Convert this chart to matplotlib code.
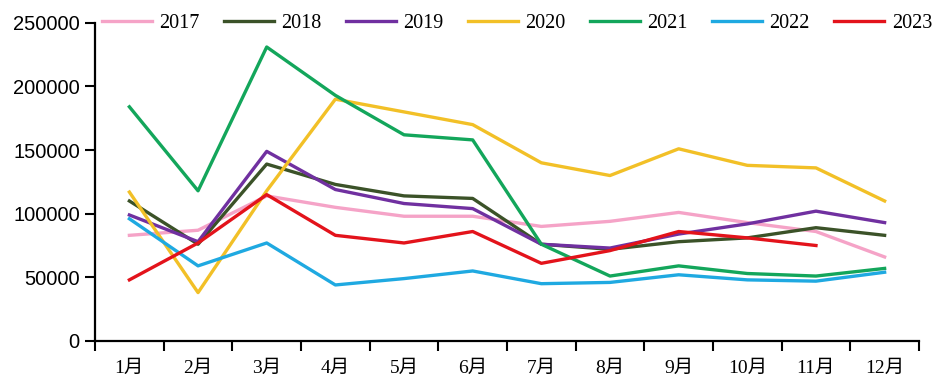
import matplotlib.pyplot as plt
import numpy as np

MONTHS = ['1月', '2月', '3月', '4月', '5月', '6月', '7月', '8月', '9月', '10月', '11月', '12月']
YEARS = ['2017', '2018', '2019', '2020', '2021', '2022', '2023']
COLORS = ['#f5a3c7', '#3b5228', '#7030a0', '#f2c027', '#13a65b', '#1fa9e1', '#e3131b']

v2017 = [83000, 87000, 114000, 105000, 98000, 98000, 90000, 94000, 101000, 93000, 86000, 66000]
v2018 = [110000, 76000, 139000, 123000, 114000, 112000, 76000, 72000, 78000, 81000, 89000, 83000]
v2019 = [99000, 78000, 149000, 119000, 108000, 104000, 76000, 73000, 84000, 92000, 102000, 93000]
v2020 = [117000, 38000, 118000, 190000, 180000, 170000, 140000, 130000, 151000, 138000, 136000, 110000]
v2021 = [184000, 118000, 231000, 193000, 162000, 158000, 76000, 51000, 59000, 53000, 51000, 57000]
v2022 = [96000, 59000, 77000, 44000, 49000, 55000, 45000, 46000, 52000, 48000, 47000, 54000]
v2023 = [48000, 77000, 115000, 83000, 77000, 86000, 61000, 71000, 86000, 81000, 75000]

SERIES = [v2017, v2018, v2019, v2020, v2021, v2022, v2023]

fig = plt.figure(figsize=(9.32, 3.87), dpi=100)
ax = fig.add_axes([0.102, 0.119, 0.884, 0.822])

for label, vals, color in zip(YEARS, SERIES, COLORS):
    ax.plot(np.arange(len(vals)), vals, color=color, lw=2.4, label=label)

ax.set_xlim(-0.5, len(MONTHS) - 0.5)
ax.set_ylim(0, 250000)
ax.set_yticks(range(0, 250001, 50000))
ax.set_yticklabels([str(v) for v in range(0, 250001, 50000)],
                   fontsize=14.5, family=['Liberation Sans', 'DejaVu Sans'])

# month labels centred, tick marks on category boundaries
ax.set_xticks(np.arange(len(MONTHS)))
ax.set_xticklabels(MONTHS, fontsize=14, family=['Liberation Serif', 'Noto Sans CJK SC'])
ax.set_xticks(np.arange(-0.5, len(MONTHS)), minor=True)
ax.tick_params(axis='x', which='major', length=0, pad=14)
ax.tick_params(axis='x', which='minor', length=7, width=1.5, direction='out')
ax.tick_params(axis='y', length=7, width=1.5, direction='out', pad=4)

for side in ['top', 'right']:
    ax.spines[side].set_visible(False)
for side in ['left', 'bottom']:
    ax.spines[side].set_linewidth(1.6)

ax.legend(loc='center left', bbox_to_anchor=(0.109, 0.94), bbox_transform=fig.transFigure,
          ncol=7, frameon=False, handlelength=2.5, handletextpad=0.36, columnspacing=1.2,
          borderaxespad=0, borderpad=0, prop={'family': 'Liberation Serif', 'size': 14.5})

fig.savefig('out.png', dpi=100)
